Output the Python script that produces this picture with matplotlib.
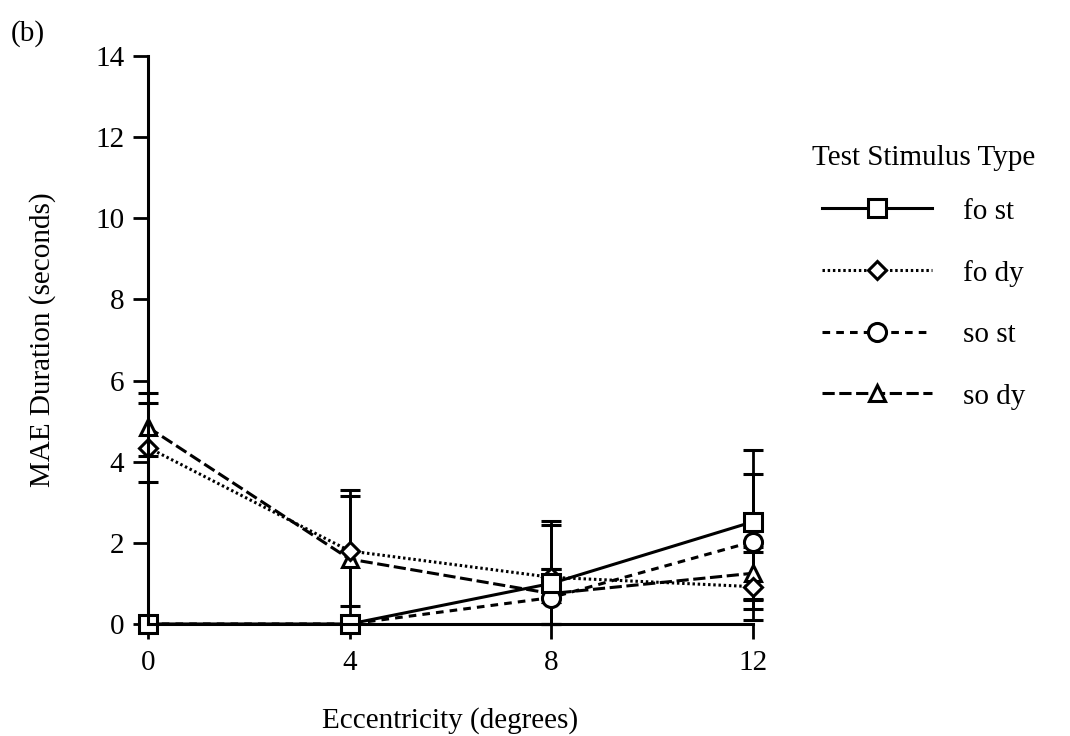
import numpy as np
import matplotlib.pyplot as plt

plt.rcParams['font.family'] = ['Liberation Serif', 'DejaVu Serif']

# eccentricity (degrees)
ecc = [0, 4, 8, 12]

# MAE duration means and error bars (lower, upper)
fo_st = [0, 0, 1.0, 2.52]
fo_st_lo = [0, 0, 1.0, 1.9]
fo_st_hi = [0, 0, 1.45, 1.77]

fo_dy = [4.35, 1.8, 1.15, 0.92]
fo_dy_lo = [0.85, 1.35, 1.15, 0.82]
fo_dy_hi = [1.1, 1.35, 1.4, 0.85]

so_st = [0, 0, 0.65, 2.03]
so_st_lo = [0, 0, 0.65, 1.65]
so_st_hi = [0, 0, 0.7, 1.67]

so_dy = [4.85, 1.6, 0.75, 1.25]
so_dy_lo = [0.7, 1.6, 0.75, 0.65]
so_dy_hi = [0.85, 1.7, 0.6, 0.65]

labels = ['fo st', 'fo dy', 'so st', 'so dy']

fig = plt.figure(figsize=(10.7, 7.36), dpi=100)
ax = fig.add_axes([0.1383, 0.1522, 0.5654, 0.7717])

common = dict(color='black', ecolor='black', lw=2.2, elinewidth=2, capsize=7.5,
              capthick=2.2, mew=2.2, mfc='white', mec='black', clip_on=False)

# drawn back to front so the squares sit on top
c4 = ax.errorbar(ecc, so_dy, yerr=[so_dy_lo, so_dy_hi], fmt='^', ms=12,
                 ls=(0, (4, 1.5)), **common)
c3 = ax.errorbar(ecc, so_st, yerr=[so_st_lo, so_st_hi], fmt='o', ms=13,
                 ls=(0, (2.5, 2)), **common)
c2 = ax.errorbar(ecc, fo_dy, yerr=[fo_dy_lo, fo_dy_hi], fmt='D', ms=9,
                 ls=(0, (0.8, 0.9)), **common)
c1 = ax.errorbar(ecc, fo_st, yerr=[fo_st_lo, fo_st_hi], fmt='s', ms=13,
                 ls='-', **common)

ax.set_xlim(0, 12)
ax.set_ylim(0, 14)
ax.set_xticks(ecc)
ax.set_yticks(np.arange(0, 15, 2))

for s in ['top', 'right']:
    ax.spines[s].set_visible(False)
for s in ['left', 'bottom']:
    ax.spines[s].set_linewidth(2.2)

ax.tick_params(direction='out', length=11, width=2, labelsize=21)
ax.tick_params(axis='y', pad=6)
ax.tick_params(axis='x', pad=8)

ax.set_xlabel('Eccentricity (degrees)', fontsize=21, labelpad=22)
ax.set_ylabel('MAE Duration (seconds)', fontsize=21, labelpad=28)

handles = [c1.lines[0], c2.lines[0], c3.lines[0], c4.lines[0]]
ax.legend(handles, labels, loc='upper left',
          bbox_to_anchor=(1.114, 0.7495), frameon=False, fontsize=21,
          handlelength=3.77, handletextpad=1.06,
          labelspacing=1.2, borderpad=0, borderaxespad=0)
ax.text(1.0975, 0.8205, 'Test Stimulus Type', transform=ax.transAxes,
        fontsize=21, va='center', ha='left')

fig.text(0.01, 0.955, '(b)', fontsize=21, va='center')

fig.savefig('out.png', dpi=100)
